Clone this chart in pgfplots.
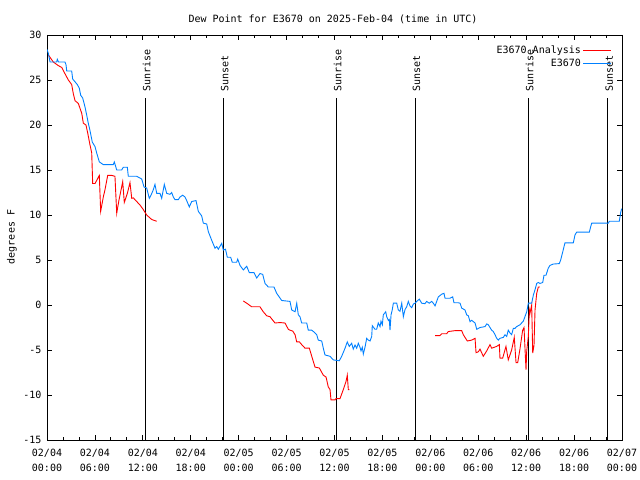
\documentclass[border=0pt]{standalone}
\usepackage{fontspec}
\setmainfont{DejaVu Sans Mono}
\usepackage{pgfplots}
\pgfplotsset{compat=1.18}
\definecolor{gblue}{RGB}{0,128,255}
\definecolor{gred}{RGB}{255,0,0}
\begin{document}
\fontsize{10bp}{12bp}\selectfont
\begin{tikzpicture}
\path[use as bounding box] (0,0) rectangle (640bp,480bp);
\begin{axis}[
  at={(47bp,40bp)}, anchor=south west,
  scale only axis, width=575bp, height=405bp,
  xmin=0, xmax=72, ymin=-15, ymax=30,
  axis line style={black, line width=0.8bp},
  xtick={0,6,...,72},
  xticklabels={{02/04\\00:00},{02/04\\06:00},{02/04\\12:00},{02/04\\18:00},{02/05\\00:00},{02/05\\06:00},{02/05\\12:00},{02/05\\18:00},{02/06\\00:00},{02/06\\06:00},{02/06\\12:00},{02/06\\18:00},{02/07\\00:00}},
  xticklabel style={align=center, font=\fontsize{10bp}{15bp}\selectfont, yshift=-6bp},
  minor x tick num=2,
  ytick={-15,-10,...,30},
  yticklabels={-15,-10,-5,0,5,10,15,20,25,30},
  yticklabel style={font=\fontsize{10bp}{12bp}\selectfont, xshift=-2bp},
  tick align=inside,
  major tick length=5bp, minor tick length=3bp,
  tick style={black, line width=0.8bp},
  unbounded coords=jump,
  legend plot pos=right,
  legend cell align=right,
  legend style={draw=none, fill=none, at={(rel axis cs:1,1)}, anchor=north east,
    xshift=-9bp, yshift=-8bp, font=\fontsize{10bp}{12bp}\selectfont,
    row sep=-0.5bp, inner sep=1bp},
  legend image code/.code={\draw[#1] (3bp,0bp) -- (31bp,0bp);},
]
\foreach \t in {12.27,22.04,36.19,46.08,60.23,70.21}{
  \edef\tmp{\noexpand\draw[black, line width=0.9bp] (axis cs:\t,-15) -- (axis cs:\t,23.0);}
  \tmp
}
\node[rotate=90, anchor=west, inner sep=0pt] at (axis cs:12.47,23.7) {Sunrise};
\node[rotate=90, anchor=west, inner sep=0pt] at (axis cs:22.24,23.7) {Sunset};
\node[rotate=90, anchor=west, inner sep=0pt] at (axis cs:36.39,23.7) {Sunrise};
\node[rotate=90, anchor=west, inner sep=0pt] at (axis cs:46.28,23.7) {Sunset};
\node[rotate=90, anchor=west, inner sep=0pt] at (axis cs:60.43,23.7) {Sunrise};
\node[rotate=90, anchor=west, inner sep=0pt] at (axis cs:70.41,23.7) {Sunset};

\addplot[gred, line width=0.9bp] table {
x y
0.16 27.8
0.79 27.0
1.41 26.6
1.84 26.4
2.25 25.7
2.67 25.0
3.09 24.5
3.29 23.5
3.51 22.7
3.92 22.4
4.35 21.3
4.55 20.2
4.88 20.0
5.10 19.1
5.38 17.8
5.60 16.9
5.72 13.5
6.01 13.5
6.26 13.9
6.55 14.4
6.72 10.4
7.05 12.0
7.26 12.8
7.60 14.4
8.10 14.4
8.51 14.3
8.73 10.2
9.02 11.7
9.14 12.2
9.48 13.7
9.68 11.4
10.06 12.4
10.39 13.6
10.61 11.85
10.81 11.9
11.23 11.5
11.65 11.1
12.06 10.6
12.48 10.0
13.11 9.5
13.74 9.3
14.0 nan
24.58 0.45
25.01 0.2
25.63 -0.2
26.67 -0.2
27.08 -0.75
27.51 -1.2
27.92 -1.3
28.55 -2.0
29.17 -1.95
29.80 -2.0
30.22 -2.7
30.43 -2.8
30.77 -2.9
31.06 -3.3
31.27 -4.1
31.60 -4.1
31.89 -4.4
32.31 -4.8
32.85 -4.8
33.15 -5.7
33.56 -6.9
34.10 -7.0
34.60 -7.8
34.94 -8.0
35.22 -9.1
35.44 -9.4
35.56 -10.55
36.06 -10.55
36.19 -10.4
36.69 -10.4
37.10 -9.4
37.44 -8.5
37.60 -7.8
37.73 -9.4
37.85 -9.4
40.0 nan
48.59 -3.4
49.21 -3.4
49.42 -3.2
50.04 -3.2
50.25 -2.95
51.09 -2.85
51.93 -2.85
52.13 -3.3
52.63 -4.0
53.18 -3.9
53.60 -3.7
53.72 -5.3
54.01 -5.2
54.22 -4.9
54.63 -5.7
55.06 -5.1
55.47 -4.4
55.68 -4.8
56.31 -4.6
56.64 -4.4
56.72 -5.9
57.06 -5.9
57.47 -4.6
57.76 -6.1
58.18 -5.0
58.51 -3.6
58.73 -6.4
58.94 -6.4
59.22 -4.9
59.56 -2.8
59.73 -2.5
59.98 -7.2
60.07 -5.1
60.27 -3.5
60.40 -0.55
60.48 -0.9
60.69 0.0
60.82 -5.35
60.98 -4.5
61.11 -0.55
61.32 1.3
61.52 2.0
61.73 2.0
};
\addlegendentry{E3670 Analysis}

\addplot[gblue, line width=0.9bp] table {
x y
0.00 28.4
0.16 28.0
0.38 27.0
1.21 27.0
1.29 27.3
1.44 27.0
2.25 27.0
2.38 26.7
2.47 26.0
3.09 26.0
3.22 25.1
3.51 24.8
3.79 24.5
4.04 24.1
4.22 23.3
4.47 23.0
4.76 22.0
4.97 21.1
5.17 20.2
5.38 19.4
5.67 18.1
6.01 17.6
6.22 16.9
6.55 15.9
7.05 15.6
8.30 15.6
8.43 15.9
8.73 15.0
9.35 15.0
9.55 15.3
10.06 15.3
10.18 14.3
11.23 14.3
11.86 14.0
12.15 13.1
12.48 13.0
12.81 11.85
13.02 12.2
13.31 12.8
13.52 13.4
13.74 12.4
14.15 12.4
14.36 11.85
14.69 13.4
14.99 12.4
15.40 12.3
15.61 12.5
15.82 12.0
16.03 11.7
16.44 11.7
16.65 12.0
16.99 12.2
17.28 12.0
17.49 11.6
17.82 10.9
18.12 11.5
18.66 11.6
18.95 10.4
19.37 9.9
19.57 9.1
20.00 9.0
20.20 8.15
20.62 7.2
21.04 6.3
21.25 6.5
21.45 6.2
21.88 6.85
22.08 6.1
22.35 6.2
22.58 5.3
23.00 5.3
23.20 4.75
23.75 4.75
23.88 5.1
24.17 4.4
24.58 3.9
25.01 4.3
25.33 3.6
25.92 3.6
26.26 3.0
26.67 3.5
27.01 3.4
27.30 2.4
27.71 2.0
28.42 2.0
28.76 1.3
29.39 0.5
30.43 0.4
30.64 -0.55
31.06 -0.75
31.27 0.2
31.47 -1.1
31.68 -1.3
31.89 -2.0
32.52 -2.0
32.72 -2.8
33.15 -2.8
33.43 -3.0
33.77 -3.3
33.97 -3.9
34.40 -4.0
34.60 -4.8
34.81 -5.55
35.44 -5.7
35.85 -6.1
36.60 -6.2
36.90 -5.7
37.32 -4.8
37.60 -4.1
37.85 -4.6
38.15 -4.25
38.35 -4.9
38.57 -4.45
38.78 -4.8
38.98 -4.25
39.19 -4.7
39.32 -5.1
39.48 -4.7
39.61 -5.45
39.82 -4.7
40.03 -3.7
40.23 -3.9
40.45 -4.0
40.66 -3.5
40.73 -2.3
41.07 -2.7
41.28 -2.7
41.48 -2.0
41.70 -2.4
41.82 -1.8
41.99 -2.2
42.11 -1.1
42.41 -0.75
42.54 -1.3
42.74 -1.7
42.86 -1.6
42.95 -2.8
43.08 -1.1
43.24 -0.5
43.37 0.2
43.79 0.2
43.99 -0.55
44.20 -0.7
44.42 0.2
44.62 -1.3
44.83 -0.5
45.04 -0.2
45.24 0.4
45.45 -0.1
45.67 -0.3
45.87 0.1
46.08 0.2
46.29 0.4
46.62 0.65
46.92 0.2
47.33 0.15
47.54 0.4
47.87 0.2
48.17 0.4
48.37 0.2
48.59 -0.1
49.00 0.9
49.42 1.2
49.71 1.3
49.84 0.75
50.46 0.75
50.80 0.9
50.96 0.25
51.50 0.25
51.72 0.2
51.93 -0.35
52.34 -0.55
52.55 -1.1
52.76 -1.2
52.97 -1.85
53.18 -1.7
53.60 -2.0
53.81 -2.7
54.22 -2.5
54.85 -2.4
55.06 -2.1
55.26 -2.2
55.47 -2.5
55.68 -2.8
55.89 -2.95
56.10 -3.3
56.31 -3.7
56.51 -3.9
56.72 -3.7
57.14 -3.6
57.35 -3.3
57.56 -3.5
57.76 -2.8
57.97 -3.1
58.18 -3.3
58.39 -2.6
58.60 -2.6
58.81 -2.4
59.22 -2.2
59.64 -1.8
60.07 -0.75
60.27 0.2
60.48 0.2
60.69 0.2
60.90 1.1
61.11 1.7
61.32 2.4
61.52 2.5
61.73 2.4
62.07 2.5
62.23 3.3
62.48 3.3
62.77 4.1
62.98 4.4
63.40 4.55
64.15 4.6
64.32 5.0
64.58 5.9
64.74 6.5
64.86 6.9
65.90 6.9
66.12 7.8
66.33 8.1
67.91 8.1
68.08 8.7
68.21 9.1
70.29 9.1
70.41 9.3
71.66 9.3
71.75 9.8
71.83 10.25
71.95 10.7
};
\addlegendentry{E3670}
\end{axis}
\node at (333bp,461bp) {Dew Point for E3670 on 2025-Feb-04 (time in UTC)};
\node[rotate=90] at (12bp,243bp) {degrees F};
\end{tikzpicture}
\end{document}
